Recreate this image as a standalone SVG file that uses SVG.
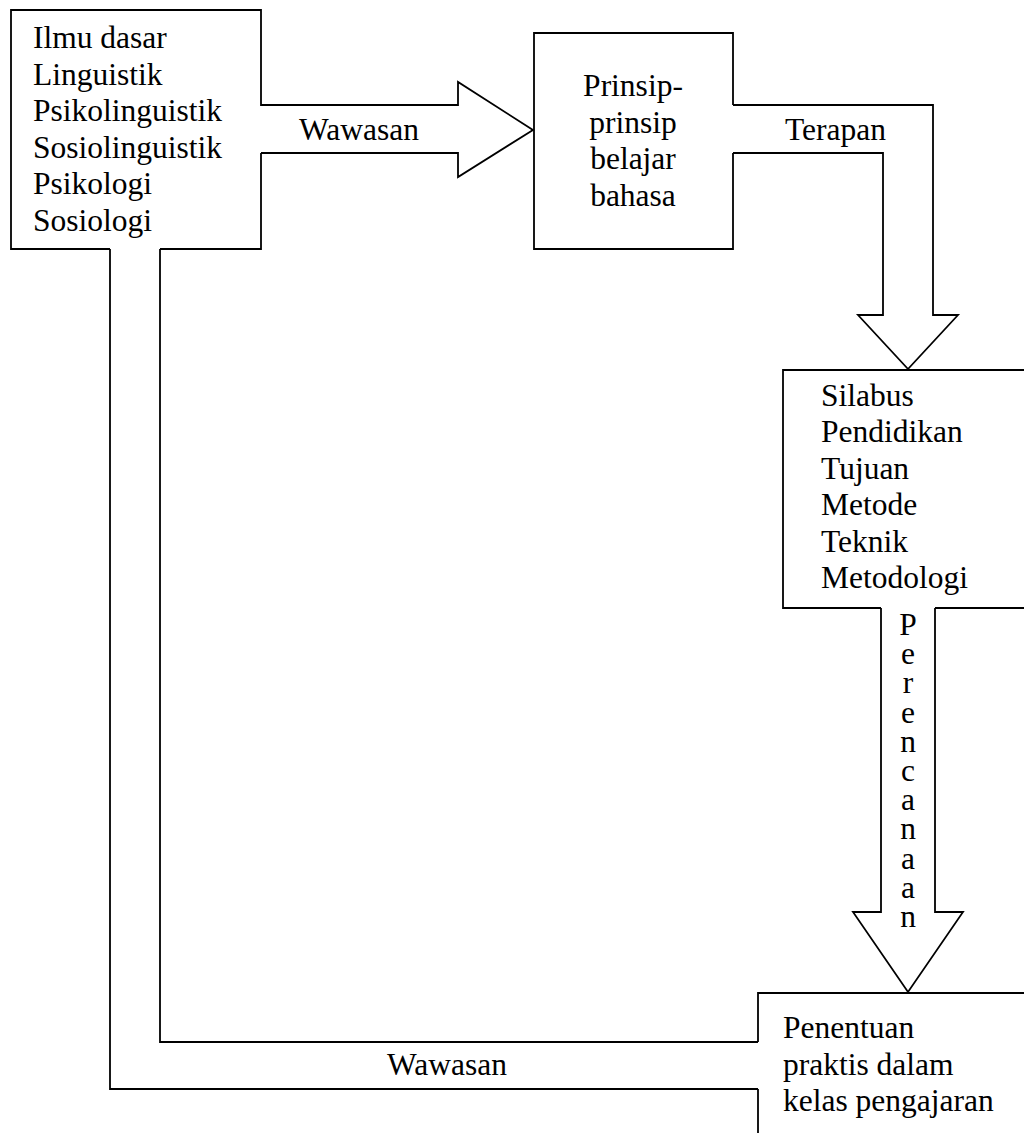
<svg xmlns="http://www.w3.org/2000/svg" width="1024" height="1133" viewBox="0 0 1024 1133">
  <style>
    .edge { fill: none; stroke: #000; stroke-width: 1.8; stroke-linejoin: miter; }
    .arrow { fill: #fff; stroke: #000; stroke-width: 1.8; stroke-linejoin: miter; }
    .lbl { font-size: 31.5px; fill: #000; }
    .mid { text-anchor: middle; }
    .vert { writing-mode: vertical-rl; text-orientation: upright; letter-spacing: -5.8px; }
  </style>
  <rect width="1024" height="1133" fill="#fff"/>

  <g font-family="'Liberation Serif', 'DejaVu Serif', serif">
  <!-- connectors: block arrows and the feedback channel -->
  <g id="connectors">
    <g id="arrow-wawasan-top">
      <path class="arrow" d="M261,105 H458 V82 L533,130 L458,177 V153 H261"/>
      <text class="lbl" x="299" y="140">Wawasan</text>
    </g>
    <g id="arrow-terapan">
      <path class="arrow" d="M733,105 H933 V315 H958 L908,369 L858,315 H883 V153 H733"/>
      <text class="lbl" x="785" y="140">Terapan</text>
    </g>
    <g id="arrow-perencanaan">
      <path class="arrow" d="M881,608 V912 H853 L908,992 L963,912 H935 V608"/>
      <text class="lbl vert" x="908" y="607">Perencanaan</text>
    </g>
    <g id="channel-wawasan-feedback">
      <path class="edge" d="M758,1042 H160 V249 M110,249 V1089 H758"/>
      <text class="lbl" x="387" y="1075">Wawasan</text>
    </g>
  </g>

  <!-- nodes -->
  <g id="node-ilmu-dasar">
    <path class="edge" d="M261,106 V10 H11 V249 H110 M160,249 H261 V153"/>
    <text class="lbl" x="33" y="48">Ilmu dasar</text>
    <text class="lbl" x="33" y="84.5">Linguistik</text>
    <text class="lbl" x="33" y="121">Psikolinguistik</text>
    <text class="lbl" x="33" y="157.5">Sosiolinguistik</text>
    <text class="lbl" x="33" y="194">Psikologi</text>
    <text class="lbl" x="33" y="230.5">Sosiologi</text>
  </g>

  <g id="node-prinsip">
    <path class="edge" d="M733,105 V33 H534 V249 H733 V153"/>
    <text class="lbl mid" x="633" y="96">Prinsip-</text>
    <text class="lbl mid" x="633" y="132.5">prinsip</text>
    <text class="lbl mid" x="633" y="169">belajar</text>
    <text class="lbl mid" x="633" y="205.5">bahasa</text>
  </g>

  <g id="node-silabus">
    <path class="edge" d="M1030,370 H783 V608 H881 M935,608 H1030"/>
    <text class="lbl" x="821" y="405.5">Silabus</text>
    <text class="lbl" x="821" y="442">Pendidikan</text>
    <text class="lbl" x="821" y="478.5">Tujuan</text>
    <text class="lbl" x="821" y="515">Metode</text>
    <text class="lbl" x="821" y="551.5">Teknik</text>
    <text class="lbl" x="821" y="588">Metodologi</text>
  </g>

  <g id="node-penentuan">
    <path class="edge" d="M1030,993 H758 V1042 M758,1089 V1140"/>
    <text class="lbl" x="783" y="1038">Penentuan</text>
    <text class="lbl" x="783" y="1074.5">praktis dalam</text>
    <text class="lbl" x="783" y="1111">kelas pengajaran</text>
  </g>
  </g>
</svg>
